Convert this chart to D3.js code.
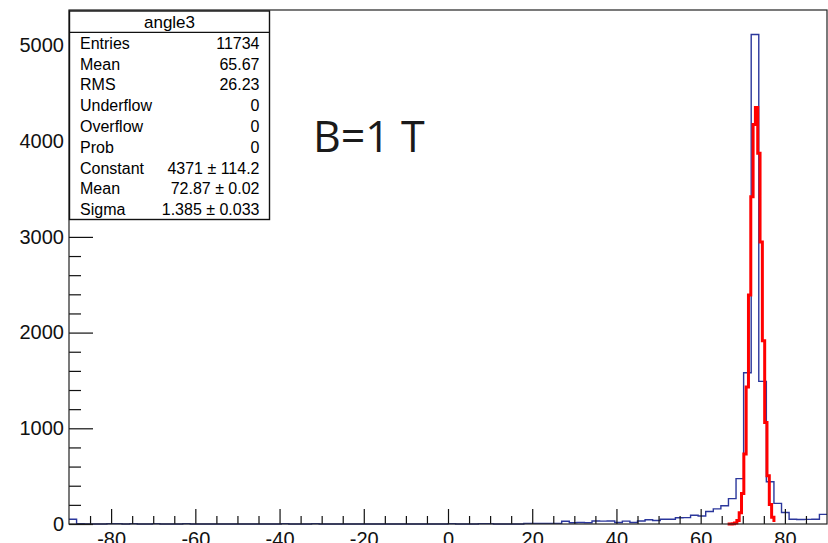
<!DOCTYPE html>
<html>
<head>
<meta charset="utf-8">
<script src="https://cdn.jsdelivr.net/npm/d3@7"></script>
<style>
  body { margin: 0; background: #fff; }
  svg { display: block; }
</style>
</head>
<body>
<svg id="chart" width="828" height="543"></svg>
<script>
// histogram angle3 : 100 bins from -90 to 90
const binCounts = [
  50, 4, 0, 0, 0, 4, 4, 0, 4, 0,
  0, 4, 0, 0, 0, 4, 0, 0, 0, 0,
  0, 0, 0, 0, 0, 0, 0, 0, 4, 0,
  0, 0, 4, 0, 0, 0, 0, 0, 0, 0,
  0, 0, 0, 0, 0, 0, 0, 0, 0, 0,
  4, 0, 0, 0, 4, 4, 0, 0, 0, 0,
  7, 7, 7, 7, 7, 28, 13, 15, 13, 31,
  30, 32, 16, 30, 16, 31, 45, 36, 49, 50,
  65, 67, 92, 84, 130, 158, 190, 265, 474, 1580,
  5115, 1490, 442, 215, 120, 50, 47, 48, 50, 101
];
const xRange = [-90, 90];

const statNames = ["Entries", "Mean", "RMS", "Underflow", "Overflow", "Prob", "Constant", "Mean", "Sigma"];
const statValues = ["11734", "65.67", "26.23", "0", "0", "0", "4371 \u00b1 114.2", "72.87 \u00b1 0.02", "1.385 \u00b1 0.033"];

// gaussian fit parameters (from the stats box)
const fitConstant = 4371;
const fitMean = 72.87;
const fitSigma = 1.385;
const fitRange = [66.4, 77.4];

const plotLeft = 69, plotRight = 827, plotTop = 10, plotBottom = 524;
const svg = d3.select("#chart");

const x = d3.scaleLinear().domain(xRange).range([plotLeft, plotRight]);
const y = d3.scaleLinear().domain([0, d3.max(binCounts) * 1.05]).range([plotBottom, plotTop]);

const binWidth = (xRange[1] - xRange[0]) / binCounts.length;

// histogram outline
const histPts = binCounts.map((c, i) => [xRange[0] + i * binWidth, c]);
histPts.push([xRange[1], binCounts[binCounts.length - 1]]);

const stepLine = d3.line()
  .x(d => x(d[0]))
  .y(d => y(d[1]))
  .curve(d3.curveStepAfter);

svg.append("path")
  .attr("d", stepLine(histPts))
  .attr("fill", "none")
  .attr("stroke", "#2b379c")
  .attr("stroke-width", 1.4);

// fit curve
const fitPts = d3.range(fitRange[0], fitRange[1] + 1e-9, 0.55)
  .map(v => [v, fitConstant * Math.exp(-0.5 * Math.pow((v - fitMean) / fitSigma, 2))]);

svg.append("path")
  .attr("d", stepLine(fitPts))
  .attr("fill", "none")
  .attr("stroke", "#ff0000")
  .attr("stroke-width", 3);

// axes
const font = "'Liberation Sans', Arial, sans-serif";

const xMajor = svg.append("g")
  .attr("transform", `translate(0,${plotBottom})`)
  .call(d3.axisBottom(x).tickValues(d3.range(-80, 81, 20)).tickSize(-15).tickPadding(8).tickFormat(d => String(d)));
const xMinor = svg.append("g")
  .attr("transform", `translate(0,${plotBottom})`)
  .call(d3.axisBottom(x).tickValues(d3.range(-85, 90, 5).filter(v => v % 20 !== 0)).tickSize(-8).tickFormat(""));

const yMajor = svg.append("g")
  .attr("transform", `translate(${plotLeft},0)`)
  .call(d3.axisLeft(y).tickValues(d3.range(0, 5001, 1000)).tickSize(-24).tickPadding(5).tickFormat(d => String(d)));
const yMinor = svg.append("g")
  .attr("transform", `translate(${plotLeft},0)`)
  .call(d3.axisLeft(y).tickValues(d3.range(200, 5300, 200).filter(v => v % 1000 !== 0)).tickSize(-12).tickFormat(""));

[xMajor, xMinor, yMajor, yMinor].forEach(g => {
  g.select(".domain").remove();
  g.selectAll("line").attr("stroke", "#111").attr("stroke-width", 1.2);
  g.selectAll("text")
    .attr("font-family", font)
    .attr("font-size", 20)
    .attr("fill", "#111");
});

// frame
svg.append("rect")
  .attr("x", plotLeft).attr("y", plotTop)
  .attr("width", plotRight - plotLeft).attr("height", plotBottom - plotTop)
  .attr("fill", "none")
  .attr("stroke", "#222")
  .attr("stroke-width", 1.2);

// stats box
const boxX = 69.5, boxY = 11, boxW = 200, boxH = 208.5;
const stats = svg.append("g");
stats.append("rect")
  .attr("x", boxX).attr("y", boxY)
  .attr("width", boxW).attr("height", boxH)
  .attr("fill", "#fff")
  .attr("stroke", "#111")
  .attr("stroke-width", 1.4);
stats.append("line")
  .attr("x1", boxX).attr("x2", boxX + boxW)
  .attr("y1", 32.3).attr("y2", 32.3)
  .attr("stroke", "#111")
  .attr("stroke-width", 1.2);
stats.append("text")
  .attr("x", boxX + boxW / 2).attr("y", 22)
  .attr("text-anchor", "middle")
  .attr("dominant-baseline", "central")
  .attr("font-family", font).attr("font-size", 17)
  .text("angle3");

const rowY = d3.scalePoint().domain(d3.range(statNames.length)).range([43.3, 209.7]);
stats.selectAll(".sname")
  .data(statNames)
  .enter().append("text")
  .attr("class", "sname")
  .attr("x", 80)
  .attr("y", (d, i) => rowY(i))
  .attr("dominant-baseline", "central")
  .attr("font-family", font).attr("font-size", 16)
  .text(d => d);
stats.selectAll(".sval")
  .data(statValues)
  .enter().append("text")
  .attr("class", "sval")
  .attr("x", 259.5)
  .attr("y", (d, i) => rowY(i))
  .attr("text-anchor", "end")
  .attr("dominant-baseline", "central")
  .attr("font-family", font).attr("font-size", 16)
  .text(d => d);

// field annotation
svg.append("text")
  .attr("x", 313).attr("y", 152)
  .attr("font-family", "'Open Sans', 'Noto Sans', sans-serif")
  .attr("font-size", 43)
  .attr("fill", "#1a1a1a")
  .text("B=1 T");
</script>
</body>
</html>
